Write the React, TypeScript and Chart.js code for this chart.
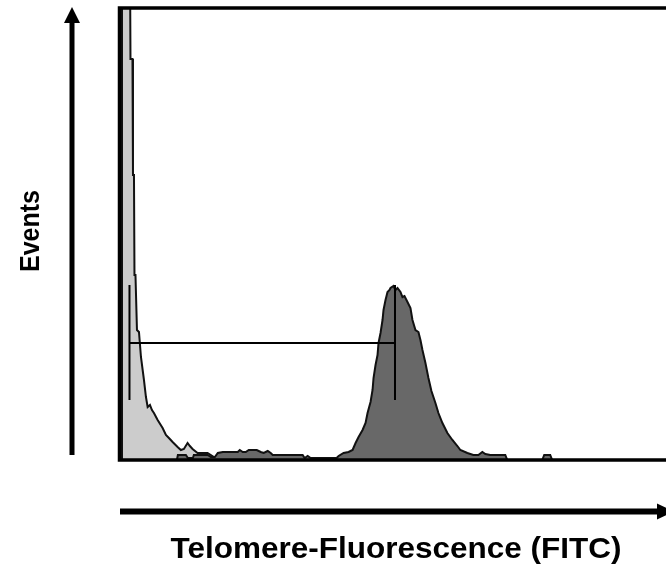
import React, { useEffect, useRef } from "react";
import { Chart, registerables } from "chart.js";

Chart.register(...registerables);

// Control (unstained) histogram: fluorescence channel vs events
const controlChannels = [1, 1, 9, 9.5, 11.5, 12, 13, 13.5, 14.5, 16, 18, 20, 21.7, 23, 25, 26.7, 29, 31, 33, 36.7, 41.7, 45, 48, 51.7, 56.7, 60, 63, 66.7, 69, 71.7, 76.7, 86.7, 90, 93, 96];
const controlEvents = [0, 500, 500, 401, 401, 285, 285, 185, 185, 130, 128, 103, 90, 80, 63, 53, 55, 50, 47, 40, 32, 25, 22, 18, 13, 10, 11, 17, 14, 11, 7, 7, 5, 3, 0];

// Telomere probe (FITC) histogram
const sampleChannels = [56, 57, 65, 67, 72, 73, 87, 90, 94, 97, 102, 117, 119, 122, 125, 128, 136, 140, 143, 147, 150, 152, 182, 184, 187, 190, 216, 218, 223, 228, 232, 235, 238, 242, 245, 247, 250, 252, 253, 255, 257, 258, 260, 262, 263, 265, 267, 269, 270, 273, 275, 277, 280, 282, 284, 287, 290, 292, 295, 298, 300, 302, 305, 308, 311, 315, 318, 322, 327, 332, 337, 340, 347, 353, 358, 362, 365, 370, 385, 387, 422, 424, 430, 432, 546];
const sampleEvents = [0, 5, 5, 2, 2, 5, 5, 3, 3, 7, 8, 8, 10, 8, 8, 10, 10, 8, 7, 9, 7, 5, 5, 2, 4, 2, 2, 4, 7, 8, 10, 17, 23, 30, 37, 47, 58, 70, 82, 95, 105, 117, 127, 140, 150, 160, 168, 170, 172, 174, 170, 172, 168, 163, 164, 158, 152, 140, 130, 128, 120, 110, 97, 82, 69, 57, 47, 37, 27, 20, 14, 10, 7, 5, 5, 8, 6, 5, 5, 0, 0, 5, 5, 0, 0];

// Gate marker (M1)
const gateStart = 8.5;
const gateEnd = 274.5;
const gateLevel = 117;
const gateTickTop = 175;
const gateTickBottom = 60;

const xMin = 0;
const xMax = 546;
const yMin = 0;
const yMax = 452;

const xLabel = "Telomere-Fluorescence (FITC)";
const yLabel = "Events";

const toPoints = (xs: number[], ys: number[]) => xs.map((x, i) => ({ x, y: ys[i] }));

const decorPlugin = {
  id: "decor",
  afterDraw(chart: any) {
    const ctx = chart.ctx as CanvasRenderingContext2D;
    const a = chart.chartArea;
    ctx.save();
    // frame: left, top, bottom
    ctx.strokeStyle = "#000";
    ctx.lineWidth = 3.5;
    ctx.beginPath();
    ctx.moveTo(a.right + 2, a.top);
    ctx.lineTo(a.left - 1.5, a.top);
    ctx.lineTo(a.left - 1.5, a.bottom);
    ctx.lineTo(a.right + 2, a.bottom);
    ctx.stroke();

    // vertical arrow
    ctx.fillStyle = "#000";
    const ax = 72;
    ctx.fillRect(ax - 2.5, 22, 5, 455 - 22);
    ctx.beginPath();
    ctx.moveTo(ax, 7);
    ctx.lineTo(ax - 8, 23);
    ctx.lineTo(ax + 8, 23);
    ctx.closePath();
    ctx.fill();

    // horizontal arrow
    const ay = 511.5;
    ctx.fillRect(120, ay - 3, 540, 6);
    ctx.beginPath();
    ctx.moveTo(674, ay);
    ctx.lineTo(657, ay - 8);
    ctx.lineTo(657, ay + 8);
    ctx.closePath();
    ctx.fill();

    // labels
    ctx.fillStyle = "#000";
    ctx.textAlign = "center";
    ctx.textBaseline = "middle";
    ctx.save();
    ctx.translate(396, 550);
    ctx.scale(1.05, 1);
    ctx.font = "bold 30px 'Liberation Sans', Arial, sans-serif";
    ctx.fillText(xLabel, 0, 0);
    ctx.restore();
    ctx.save();
    ctx.translate(32, 231);
    ctx.rotate(-Math.PI / 2);
    ctx.scale(1, 1.08);
    ctx.font = "bold 25px 'Liberation Sans', Arial, sans-serif";
    ctx.fillText(yLabel, 0, 0);
    ctx.restore();
    ctx.restore();
  },
};

export default function App() {
  const ref = useRef<HTMLCanvasElement | null>(null);

  useEffect(() => {
    document.body.style.margin = "0";
    if (!ref.current) return;
    const gateLine = {
      borderColor: "#000",
      borderWidth: 2,
      pointRadius: 0,
      fill: false,
      showLine: true,
      order: 1,
    };
    const chart = new Chart(ref.current, {
      type: "scatter",
      data: {
        datasets: [
          {
            label: "Control",
            data: toPoints(controlChannels, controlEvents),
            showLine: true,
            fill: "origin",
            backgroundColor: "#cccccc",
            borderColor: "#111",
            borderWidth: 2,
            pointRadius: 0,
            order: 3,
          },
          {
            label: "Telomere",
            data: toPoints(sampleChannels, sampleEvents),
            showLine: true,
            fill: "origin",
            backgroundColor: "#686868",
            borderColor: "#111",
            borderWidth: 2,
            pointRadius: 0,
            order: 2,
          },
          { ...gateLine, label: "gateL", data: [{ x: gateStart, y: gateTickTop }, { x: gateStart, y: gateTickBottom }] },
          { ...gateLine, label: "gateH", data: [{ x: gateStart, y: gateLevel }, { x: gateEnd, y: gateLevel }] },
          { ...gateLine, label: "gateR", data: [{ x: gateEnd, y: gateTickTop }, { x: gateEnd, y: gateTickBottom }] },
        ] as any,
      },
      options: {
        animation: false,
        responsive: false,
        maintainAspectRatio: false,
        layout: { padding: { left: 121, right: 0, top: 8, bottom: 105 } },
        scales: {
          x: { type: "linear", min: xMin, max: xMax, display: false },
          y: { type: "linear", min: yMin, max: yMax, display: false },
        },
        plugins: { legend: { display: false }, tooltip: { enabled: false }, title: { display: false } },
        elements: { line: { tension: 0 } },
      },
      plugins: [decorPlugin],
    });
    return () => chart.destroy();
  }, []);

  return (
    <div style={{ width: 666, height: 565, background: "#fff" }}>
      <canvas ref={ref} width={666} height={565} style={{ display: "block" }} />
    </div>
  );
}
